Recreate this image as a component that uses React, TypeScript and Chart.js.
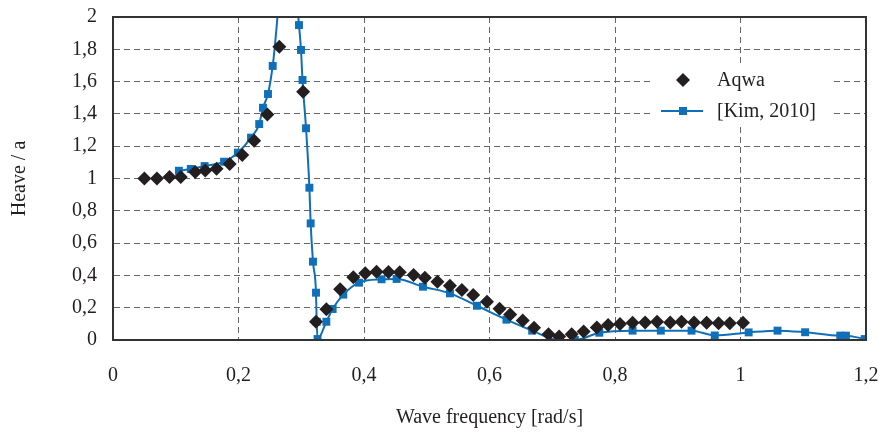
import React, { useEffect, useRef } from "react";
import { Chart, registerables } from "chart.js";

Chart.register(...registerables);

// Aqwa (diamonds): frequency [rad/s], heave / a
const aqwaX = [0.05, 0.07, 0.09, 0.108, 0.131, 0.147, 0.165, 0.186, 0.206, 0.225, 0.246, 0.265, 0.303, 0.3235, 0.34, 0.362, 0.383, 0.402, 0.42, 0.439, 0.457, 0.479, 0.497, 0.517, 0.537, 0.556, 0.574, 0.596, 0.616, 0.633, 0.653, 0.671, 0.694, 0.711, 0.731, 0.75, 0.771, 0.789, 0.808, 0.828, 0.848, 0.867, 0.888, 0.906, 0.926, 0.946, 0.965, 0.983, 1.004];
const aqwaY = [1.0, 1.0, 1.01, 1.01, 1.04, 1.05, 1.06, 1.09, 1.145, 1.234, 1.397, 1.816, 1.537, 0.113, 0.19, 0.314, 0.388, 0.413, 0.423, 0.421, 0.419, 0.402, 0.386, 0.361, 0.336, 0.31, 0.279, 0.237, 0.194, 0.158, 0.12, 0.076, 0.035, 0.021, 0.035, 0.052, 0.078, 0.093, 0.099, 0.107, 0.109, 0.113, 0.109, 0.113, 0.109, 0.107, 0.103, 0.103, 0.107];

// [Kim, 2010] (squares + line)
const kimX = [0.105, 0.124, 0.146, 0.177, 0.199, 0.22, 0.233, 0.239, 0.247, 0.2545, 0.28, 0.2964, 0.2996, 0.302, 0.3076, 0.313, 0.315, 0.3187, 0.3235, 0.3246, 0.326, 0.34, 0.35, 0.367, 0.392, 0.428, 0.452, 0.494, 0.537, 0.58, 0.627, 0.668, 0.711, 0.736, 0.775, 0.828, 0.873, 0.922, 0.959, 1.013, 1.059, 1.103, 1.159, 1.168, 1.198];
const kimY = [1.048, 1.059, 1.077, 1.104, 1.16, 1.253, 1.337, 1.438, 1.523, 1.697, 2.6, 1.95, 1.796, 1.61, 1.311, 0.943, 0.722, 0.485, 0.293, 0.113, 0.006, 0.113, 0.192, 0.281, 0.355, 0.376, 0.378, 0.33, 0.289, 0.212, 0.126, 0.058, 0.0, 0.0, 0.045, 0.058, 0.058, 0.058, 0.028, 0.047, 0.058, 0.048, 0.027, 0.027, 0.006];

const xTickLabels = ["0", "0,2", "0,4", "0,6", "0,8", "1", "1,2"];
const yTickLabels = ["0", "0,2", "0,4", "0,6", "0,8", "1", "1,2", "1,4", "1,6", "1,8", "2"];

const seriesNames = ["Aqwa", "[Kim, 2010]"];

const FONT = "'Liberation Serif', 'Times New Roman', serif";
const BLUE = "#0f6fb8";
const BLACK = "#231f20";

const legendFramePlugin = {
  id: "legendFrame",
  afterDraw(chart: any) {
    const { ctx, chartArea } = chart;
    ctx.save();
    const bx = chartArea.right - 216;
    const by = chartArea.top + 47;
    ctx.fillStyle = "#ffffff";
    ctx.fillRect(bx, by, 183, 63);
    ctx.strokeStyle = "#333333";
    ctx.lineWidth = 2;
    ctx.setLineDash([]);
    ctx.strokeRect(chartArea.left, chartArea.top, chartArea.right - chartArea.left, chartArea.bottom - chartArea.top);

    ctx.font = `20px ${FONT}`;
    ctx.textBaseline = "middle";
    ctx.textAlign = "left";
    const ds0 = chart.data.datasets[0];
    const ds1 = chart.data.datasets[1];
    const y0 = by + 16;
    const y1 = by + 47;
    const mx = bx + 33;
    ctx.beginPath();
    ctx.moveTo(mx, y0 - 7);
    ctx.lineTo(mx + 7, y0);
    ctx.lineTo(mx, y0 + 7);
    ctx.lineTo(mx - 7, y0);
    ctx.closePath();
    ctx.fillStyle = ds0.backgroundColor;
    ctx.fill();
    ctx.fillStyle = BLACK;
    ctx.fillText(ds0.label, bx + 67, y0 + 1);
    ctx.strokeStyle = ds1.borderColor;
    ctx.lineWidth = 2;
    ctx.beginPath();
    ctx.moveTo(bx + 11, y1);
    ctx.lineTo(bx + 53, y1);
    ctx.stroke();
    ctx.fillStyle = ds1.backgroundColor;
    ctx.fillRect(mx - 4, y1 - 4, 8, 8);
    ctx.fillStyle = BLACK;
    ctx.fillText(ds1.label, bx + 67, y1 + 1);
    ctx.restore();
  },
};

export default function App() {
  const ref = useRef<HTMLCanvasElement>(null);
  useEffect(() => {
    if (!ref.current) return;
    const chart = new Chart(ref.current, {
      type: "scatter",
      data: {
        datasets: [
          {
            label: seriesNames[0],
            data: aqwaX.map((x, i) => ({ x, y: aqwaY[i] })),
            showLine: false,
            pointStyle: "rectRot",
            pointRadius: 7,
            pointBorderWidth: 0,
            backgroundColor: BLACK,
            borderColor: BLACK,
          },
          {
            label: seriesNames[1],
            data: kimX.map((x, i) => ({ x, y: kimY[i] })),
            showLine: true,
            cubicInterpolationMode: "monotone",
            borderColor: BLUE,
            borderWidth: 2,
            pointStyle: "rect",
            pointRadius: 5.6,
            pointBorderWidth: 0,
            backgroundColor: BLUE,
          },
        ],
      },
      options: {
        responsive: false,
        animation: false,
        events: [],
        layout: { padding: { top: 17, right: 17, left: 0, bottom: 0 } },
        plugins: { legend: { display: false }, tooltip: { enabled: false } },
        scales: {
          x: {
            type: "linear",
            min: 0,
            max: 1.2,
            afterFit: (s: any) => {
              s.height = 92;
              s.paddingLeft = 0;
              s.paddingRight = 0;
            },
            afterBuildTicks: (s: any) => {
              s.ticks = xTickLabels.map((_, i) => ({ value: i * 0.2 }));
            },
            ticks: {
              padding: 24,
              color: BLACK,
              font: { family: FONT, size: 20 },
              maxRotation: 0,
              callback: (_v: any, i: number) => xTickLabels[i],
            },
            grid: { color: "#666666", drawTicks: false, lineWidth: 1 },
            border: { display: true, color: "#333333", width: 2, dash: [6, 4] },
            title: {
              display: true,
              text: "Wave frequency [rad/s]",
              color: BLACK,
              font: { family: FONT, size: 20 },
              padding: { top: 0, bottom: 2 },
            },
          },
          y: {
            type: "linear",
            min: 0,
            max: 2,
            afterFit: (s: any) => {
              s.width = 113;
              s.paddingTop = 0;
              s.paddingBottom = 0;
            },
            afterBuildTicks: (s: any) => {
              s.ticks = yTickLabels.map((_, i) => ({ value: i * 0.2 }));
            },
            ticks: {
              padding: 16,
              color: BLACK,
              font: { family: FONT, size: 20 },
              callback: (_v: any, i: number) => yTickLabels[i],
            },
            grid: { color: "#666666", drawTicks: false, lineWidth: 1 },
            border: { display: true, color: "#333333", width: 2, dash: [6, 4] },
            title: {
              display: true,
              text: "Heave / a",
              color: BLACK,
              font: { family: FONT, size: 20 },
              padding: { top: 8, bottom: 0 },
            },
          },
        },
      },
      plugins: [legendFramePlugin],
    } as any);
    return () => chart.destroy();
  }, []);
  return (
    <div style={{ position: "fixed", left: 0, top: 0, width: 883, height: 432, background: "#fff" }}>
      <canvas ref={ref} width={883} height={432} style={{ display: "block" }} />
    </div>
  );
}
